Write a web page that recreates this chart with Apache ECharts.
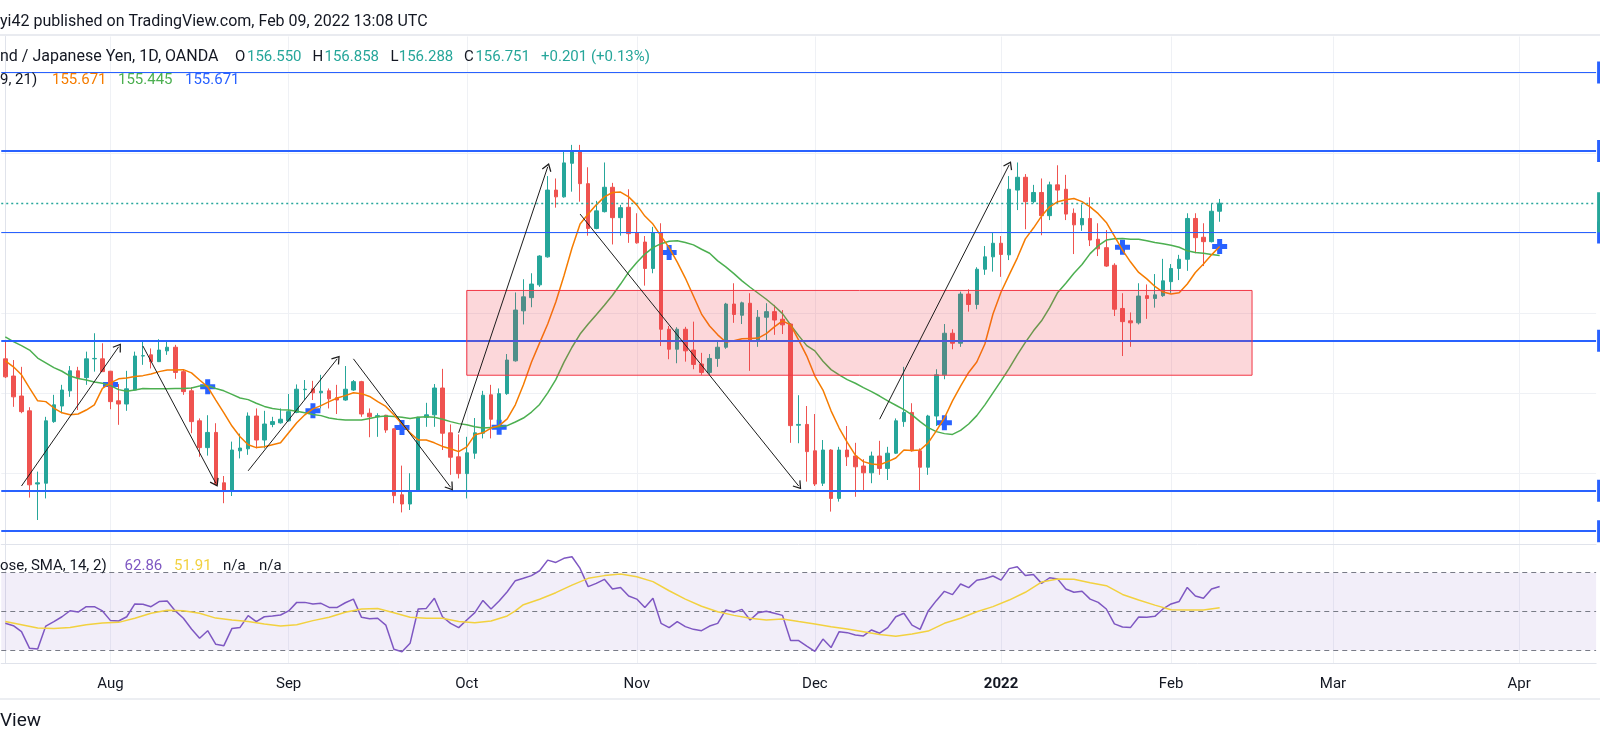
<!DOCTYPE html>
<html>
<head>
<meta charset="utf-8">
<title>GBP/JPY 1D</title>
<script src="https://cdn.jsdelivr.net/npm/echarts@6/dist/echarts.min.js"></script>
<style>
html, body { margin: 0; padding: 0; background: #ffffff; }
#chart { width: 1600px; height: 747px; }
</style>
</head>
<body>
<div id="chart"></div>
<script>
// one slot per trading day: 14 Jul 2021 .. 09 Feb 2022 (151 bars), then empty slots up to April
var barCount = 197;
var monthIdx = [13, 35, 57, 78, 100, 123, 144, 164, 187];
var monthLabels = ['Aug', 'Sep', 'Oct', 'Nov', 'Dec', '2022', 'Feb', 'Mar', 'Apr'];

var openP = [
    152.86, 152.43, 151.93, 151.56, 149.73, 149.75, 151.29, 151.68, 152.06, 152.56,
    152.39, 152.86, 152.86, 152.55, 151.81, 151.73, 152.08, 152.93, 152.96, 152.79,
    153.06, 153.15, 152.54, 152.06, 151.31, 150.64, 151.02, 149.76, 149.58, 150.56,
    150.61, 151.43, 150.83, 151.22, 151.26, 151.31, 151.52, 152.09, 152.11, 152.01,
    152.06, 151.89, 151.83, 152.08, 152.29, 151.50, 151.41, 151.45, 151.11, 149.46,
    149.23, 149.56, 151.40, 151.46, 152.13, 151.01, 150.41, 149.99, 150.50, 151.00,
    151.96, 151.33, 151.99, 152.81, 154.06, 154.39, 154.71, 155.41, 157.08, 156.91,
    157.75, 158.06, 157.24, 156.12, 156.54, 157.15, 156.39, 156.65, 156.01, 155.78,
    155.12, 156.01, 153.60, 153.10, 153.60, 153.08, 152.73, 152.52, 152.87, 153.15,
    154.23, 153.95, 154.25, 153.31, 153.90, 154.04, 153.85, 153.73, 151.20, 151.22,
    150.56, 149.75, 150.58, 149.37, 150.58, 150.43, 150.18, 150.01, 150.43, 150.12,
    150.50, 151.29, 151.52, 150.56, 150.15, 151.43, 152.46, 153.50, 153.25, 154.48,
    154.22, 155.10, 155.41, 155.75, 155.46, 157.08, 157.40, 156.79, 157.02, 156.44,
    157.21, 157.10, 156.50, 156.21, 156.37, 155.85, 155.64, 155.20, 154.12, 153.81,
    153.76, 154.44, 154.37, 154.44, 154.79, 155.12, 155.35, 156.37, 155.90, 155.79,
    156.550
];
var highP = [
    153.33, 152.83, 152.66, 151.65, 150.04, 151.41, 151.96, 152.21, 152.68, 152.66,
    153.04, 153.50, 153.25, 152.56, 152.23, 152.56, 153.04, 153.29, 153.12, 153.35,
    153.31, 153.21, 152.58, 152.15, 151.37, 151.45, 151.25, 149.93, 150.79, 150.99,
    151.52, 151.62, 151.56, 151.41, 151.62, 151.98, 152.22, 152.33, 152.31, 152.46,
    152.12, 152.21, 152.68, 152.33, 152.31, 151.62, 151.50, 151.46, 151.12, 150.19,
    150.00, 151.41, 151.76, 152.23, 152.61, 151.22, 150.97, 150.91, 151.38, 152.06,
    152.21, 152.12, 152.98, 154.52, 154.85, 155.00, 155.45, 157.43, 157.37, 158.06,
    158.21, 158.21, 157.65, 156.81, 157.77, 157.26, 156.71, 157.10, 156.50, 155.93,
    156.16, 156.25, 153.68, 153.65, 153.66, 153.79, 153.01, 152.98, 153.29, 154.26,
    154.75, 154.29, 154.50, 154.08, 154.25, 154.21, 154.08, 153.75, 151.95, 151.68,
    151.48, 150.83, 150.60, 150.66, 151.18, 150.76, 150.35, 150.54, 150.81, 150.66,
    151.37, 152.66, 151.75, 150.62, 151.46, 152.60, 153.73, 153.60, 154.54, 154.60,
    155.15, 155.68, 156.01, 155.93, 157.43, 157.77, 157.48, 157.21, 157.37, 157.29,
    157.70, 157.46, 156.62, 156.72, 156.90, 156.25, 156.08, 155.25, 154.50, 154.02,
    154.75, 154.72, 154.98, 155.36, 155.23, 155.46, 156.50, 156.50, 156.25, 156.75,
    156.858
];
var lowP = [
    152.38, 151.66, 151.50, 149.39, 148.83, 149.37, 151.26, 151.50, 151.91, 151.58,
    152.21, 152.54, 152.53, 151.60, 151.21, 151.56, 152.07, 152.71, 152.62, 152.78,
    152.96, 152.36, 151.96, 151.00, 150.41, 150.44, 149.70, 149.25, 149.43, 150.37,
    150.46, 150.62, 150.62, 151.15, 151.24, 151.29, 151.50, 151.83, 151.83, 151.62,
    151.62, 151.48, 151.81, 152.06, 151.41, 150.90, 150.91, 151.01, 149.25, 149.02,
    149.08, 149.54, 151.16, 151.16, 150.58, 149.96, 149.87, 149.37, 150.36, 150.87,
    150.87, 151.16, 151.96, 152.79, 153.72, 154.15, 154.66, 155.39, 156.64, 156.89,
    157.04, 156.79, 155.94, 156.10, 156.52, 155.72, 155.94, 155.76, 155.74, 154.69,
    155.00, 153.18, 152.85, 152.75, 152.79, 152.60, 152.46, 152.46, 152.66, 153.11,
    153.76, 153.73, 152.56, 153.16, 153.31, 153.46, 153.48, 150.76, 150.75, 149.79,
    149.68, 149.68, 149.04, 149.29, 150.18, 149.41, 149.54, 149.75, 149.96, 149.83,
    150.48, 151.16, 150.54, 149.58, 149.96, 151.18, 152.35, 153.10, 153.16, 154.04,
    154.10, 154.96, 155.04, 154.91, 155.33, 156.58, 156.10, 156.75, 155.95, 156.33,
    156.75, 156.33, 155.48, 156.06, 155.68, 155.43, 155.16, 153.93, 152.93, 153.16,
    153.72, 153.86, 154.14, 154.41, 154.51, 154.83, 155.06, 155.50, 155.18, 155.77,
    156.288
];
var closeP = [
    152.41, 151.91, 151.54, 149.71, 149.76, 151.31, 151.71, 152.08, 152.56, 152.39,
    152.86, 152.87, 152.54, 151.79, 151.73, 152.11, 152.93, 152.94, 152.79, 153.08,
    153.15, 152.52, 152.04, 151.29, 150.64, 151.02, 149.72, 149.58, 150.58, 150.63,
    151.43, 150.83, 151.23, 151.29, 151.35, 151.54, 152.10, 152.10, 152.01, 152.05,
    151.86, 151.83, 152.10, 152.29, 151.48, 151.41, 151.44, 151.08, 149.44, 149.23,
    149.56, 151.40, 151.46, 152.13, 151.00, 150.40, 149.99, 150.51, 151.01, 151.95,
    151.35, 151.99, 152.83, 154.08, 154.41, 154.73, 155.43, 157.08, 156.91, 157.76,
    158.06, 157.24, 156.12, 156.56, 157.15, 156.39, 156.64, 155.99, 155.76, 155.12,
    156.01, 153.60, 153.10, 153.60, 153.06, 152.72, 152.52, 152.87, 153.15, 154.23,
    153.97, 154.26, 153.31, 153.90, 154.04, 153.83, 153.71, 151.19, 151.22, 150.54,
    149.73, 150.58, 149.37, 150.58, 150.41, 150.16, 150.01, 150.43, 150.12, 150.50,
    151.31, 151.52, 150.56, 150.15, 151.43, 152.46, 153.50, 153.25, 154.48, 154.22,
    155.10, 155.41, 155.75, 155.47, 157.10, 157.40, 156.79, 157.02, 156.44, 157.21,
    157.08, 156.48, 156.21, 156.37, 155.83, 155.61, 155.18, 154.10, 153.79, 153.76,
    154.43, 154.37, 154.46, 154.81, 155.12, 155.35, 156.37, 155.89, 155.79, 156.55,
    156.751
];

// MA cross: short (9) orange, long (21) green
var maShort = [
    152.81, 152.66, 152.46, 152.13, 151.81, 151.79, 151.63, 151.51, 151.46, 151.48,
    151.58, 151.71, 152.12, 152.26, 152.36, 152.38, 152.42, 152.44, 152.48, 152.54,
    152.58, 152.58, 152.59, 152.51, 152.33, 152.16, 151.83, 151.51, 151.18, 150.91,
    150.71, 150.64, 150.66, 150.71, 150.76, 151.01, 151.26, 151.46, 151.61, 151.69,
    151.79, 151.88, 151.94, 152.01, 151.99, 151.92, 151.79, 151.67, 151.46, 151.23,
    151.01, 150.83, 150.83, 150.76, 150.67, 150.61, 150.54, 150.66, 150.96, 151.01,
    151.13, 151.19, 151.36, 151.71, 152.21, 152.78, 153.26, 153.73, 154.28, 154.93,
    155.63, 156.23, 156.48, 156.71, 156.91, 157.02, 157.03, 156.91, 156.71, 156.43,
    156.23, 155.93, 155.64, 155.28, 154.88, 154.43, 153.98, 153.68, 153.46, 153.28,
    153.31, 153.36, 153.37, 153.38, 153.49, 153.66, 153.81, 153.71, 153.33, 152.93,
    152.43, 152.08, 151.56, 151.13, 150.77, 150.45, 150.29, 150.23, 150.21, 150.29,
    150.38, 150.58, 150.57, 150.58, 150.76, 151.06, 151.38, 151.81, 152.18, 152.52,
    152.78, 153.23, 153.98, 154.53, 154.96, 155.38, 155.86, 156.13, 156.43, 156.66,
    156.79, 156.84, 156.87, 156.79, 156.66, 156.49, 156.27, 155.93, 155.58, 155.28,
    155.02, 154.86, 154.67, 154.53, 154.48, 154.51, 154.73, 155.02, 155.23, 155.46,
    155.671
];
var maLong = [
    153.41, 153.29, 153.19, 153.08, 152.88, 152.76, 152.64, 152.55, 152.43, 152.37,
    152.33, 152.28, 152.25, 152.19, 152.09, 152.05, 152.08, 152.12, 152.11, 152.11,
    152.11, 152.12, 152.12, 152.13, 152.18, 152.19, 152.12, 152.06, 151.97, 151.88,
    151.84, 151.75, 151.67, 151.62, 151.59, 151.58, 151.55, 151.51, 151.47, 151.44,
    151.38, 151.35, 151.33, 151.33, 151.33, 151.37, 151.41, 151.43, 151.42, 151.40,
    151.37, 151.40, 151.41, 151.40, 151.35, 151.29, 151.24, 151.21, 151.16, 151.13,
    151.14, 151.16, 151.19, 151.28, 151.38, 151.53, 151.72, 152.01, 152.34, 152.77,
    153.15, 153.48, 153.73, 153.96, 154.20, 154.45, 154.73, 155.03, 155.27, 155.48,
    155.64, 155.74, 155.80, 155.81, 155.77, 155.71, 155.60, 155.50, 155.31, 155.16,
    154.99, 154.81, 154.65, 154.50, 154.35, 154.18, 153.99, 153.71, 153.44, 153.19,
    153.06, 152.80, 152.59, 152.46, 152.34, 152.25, 152.14, 152.04, 151.93, 151.81,
    151.70, 151.59, 151.46, 151.29, 151.14, 151.04, 150.99, 150.97, 151.07, 151.23,
    151.44, 151.71, 152.01, 152.31, 152.62, 152.96, 153.27, 153.56, 153.81, 154.14,
    154.52, 154.75, 155.00, 155.22, 155.49, 155.69, 155.83, 155.86, 155.87, 155.85,
    155.85, 155.81, 155.77, 155.74, 155.70, 155.65, 155.56, 155.52, 155.50, 155.47,
    155.445
];
var crossIdx = [13, 25, 38, 49, 61, 82, 116, 138, 150];
var crossVal = [152.22, 152.16, 151.56, 151.14, 151.15, 155.52, 151.26, 155.65, 155.671];

// drawings
var levelsThin = [160.02, 156.02];
var levelsThick = [158.06, 153.31, 149.56, 148.55];
var lastClose = 156.751;
var zoneIdx = [57, 154];
var zonePrice = [152.45, 154.57];
var arrowLines = [
    [2, 149.68, 14, 153.16],
    [17, 153.18, 26, 149.75],
    [30, 150.06, 41, 152.86],
    [43, 152.86, 55, 149.65],
    [56, 151.01, 67, 157.66],
    [71, 156.48, 98, 149.68],
    [108, 151.35, 124, 157.71]
];
var priceGrid = [150, 152, 154, 156, 158, 160];

// RSI 14 and its SMA 14
var rsi = [
    43.9, 42.7, 39.6, 31.0, 30.7, 42.5, 44.8, 47.3, 50.4, 49.7,
    52.5, 52.5, 50.3, 45.3, 45.1, 47.3, 53.9, 53.7, 52.5, 55.1,
    55.4, 50.3, 46.5, 41.0, 36.2, 40.1, 33.1, 32.4, 41.3, 41.8,
    47.9, 44.8, 47.3, 47.7, 48.2, 50.3, 54.7, 54.7, 53.9, 54.2,
    52.1, 52.1, 54.5, 56.4, 47.0, 46.3, 46.5, 43.0, 30.5, 29.3,
    33.6, 51.3, 51.6, 56.8, 47.3, 43.9, 41.7, 45.6, 49.4, 55.7,
    51.3, 55.4, 60.2, 65.9, 67.1, 68.5, 71.0, 76.5, 75.3, 77.4,
    78.2, 72.2, 62.8, 64.5, 66.6, 61.6, 62.4, 58.0, 56.4, 52.1,
    56.8, 43.9, 41.7, 44.8, 42.2, 40.8, 40.1, 42.5, 43.9, 50.8,
    49.7, 51.1, 45.6, 49.4, 50.1, 49.1, 48.0, 35.0, 35.0, 32.2,
    29.5, 35.8, 31.4, 39.6, 39.1, 37.9, 37.4, 40.5, 38.8, 41.7,
    47.3, 49.1, 43.0, 40.8, 50.3, 55.6, 60.4, 58.7, 64.2, 62.3,
    66.1, 66.9, 68.3, 66.2, 72.1, 73.1, 68.5, 69.1, 64.5, 67.4,
    66.7, 61.6, 59.9, 60.4, 56.4, 54.7, 51.3, 43.6, 42.0, 41.8,
    47.2, 47.0, 47.5, 51.3, 53.9, 55.2, 62.4, 58.0, 56.8, 61.6,
    62.86
];
var rsiMa = [
    [0, 44.8], [2, 43.2], [4, 41.5], [6, 41.2], [8, 41.7], [10, 43.2], [12, 44.1], [14, 44.4],
    [16, 46.5], [18, 49.1], [20, 50.6], [22, 50.4], [24, 49.1], [26, 46.6], [28, 45.6], [30, 44.8],
    [32, 43.6], [34, 42.5], [36, 43.2], [38, 45.3], [40, 47.0], [42, 49.6], [44, 51.3], [46, 51.5],
    [48, 49.4], [50, 47.0], [52, 46.5], [54, 46.5], [56, 44.9], [58, 44.2], [60, 45.1], [62, 47.7],
    [63, 50.3], [64, 53.5], [66, 56.3], [68, 59.7], [70, 63.6], [72, 67.1], [74, 68.5], [76, 69.3],
    [78, 67.9], [80, 65.4], [82, 60.7], [84, 56.4], [86, 52.7], [88, 49.9], [90, 48.0], [92, 46.5],
    [94, 45.6], [96, 46.1], [98, 44.8], [100, 43.6], [102, 42.2], [104, 41.0], [106, 39.6], [108, 38.2],
    [110, 37.2], [112, 38.4], [114, 39.9], [116, 43.9], [118, 46.5], [120, 49.9], [122, 52.5], [124, 55.9],
    [126, 59.9], [128, 65.2], [130, 66.7], [132, 66.6], [134, 64.8], [136, 63.3], [138, 58.8], [140, 55.9],
    [142, 53.3], [144, 50.9], [146, 50.8], [148, 50.8], [150, 51.91]
];
var rsiLevels = [70, 50, 30];

var FONT = 'Roboto, "Liberation Sans", Arial, sans-serif';
var TXT = '#131722';
var UP = '#26a69a', DOWN = '#ef5350', BLUE = '#2962ff';
var ORANGE = '#f57c00', GREEN = '#4caf50', PURPLE = '#7e57c2', YELLOW = '#f2d13f';
var GRID_L = 1.25, GRID_R = 3.9;
var ARROW = 'path://M5,0L10,7L9,7.7L5,2.1L1,7.7L0,7Z';
var PLUS = 'path://M5,0H10V5H15V10H10V15H5V10H0V5H5Z';

var cats = [];
for (var i = 0; i < barCount; i++) cats.push(String(i));

var candles = [];
for (var i = 0; i < openP.length; i++) {
    candles.push([openP[i], closeP[i], lowP[i], highP[i]]);
}

var crosses = [];
for (var i = 0; i < crossIdx.length; i++) crosses.push([crossIdx[i], crossVal[i]]);

//右侧价格标签（只露出3px）
function tab(color) {
    return {
        show: true, position: 'end', distance: 1, color: '#fff', fontSize: 12, fontFamily: FONT,
        lineHeight: 14, padding: [4, 5], backgroundColor: color,
        formatter: function (p) { return p.value.toFixed(3); }
    };
}

var levelLines = [];
levelsThin.forEach(function (v) {
    levelLines.push({ yAxis: v, lineStyle: { width: 1.2 }, label: tab(BLUE) });
});
levelsThick.forEach(function (v) {
    levelLines.push({ yAxis: v, lineStyle: { width: 2.2 }, label: tab(BLUE) });
});
var closeTab = tab(UP);
closeTab.formatter = '156.751\n10:51:52';
closeTab.padding = [6, 5];
closeTab.offset = [0, 9];
levelLines.push({ yAxis: lastClose, lineStyle: { width: 1.3, color: UP, type: [2, 3] }, label: closeTab });

var arrows = arrowLines.map(function (a) {
    return [{ coord: [a[0], a[1]] }, { coord: [a[2], a[3]] }];
});

function monthLabel(val) {
    var k = monthIdx.indexOf(Math.round(val));
    if (k < 0) return '';
    return monthLabels[k] === '2022' ? '{y|2022}' : monthLabels[k];
}

var lineAxis = { onZero: false, lineStyle: { color: '#e0e3eb', width: 1 } };
var gridLine = { show: true, lineStyle: { color: '#eff1f5', width: 1 } };

// legend texts: [text, x, y, color, size]
var texts = [
    ['yi42 published on TradingView.com, Feb 09, 2022 13:08 UTC', 0, 21.7, TXT, 16],
    ['nd / Japanese Yen, 1D, OANDA', 0, 57.3, TXT, 16],
    ['O', 235, 57.3, TXT, 15], ['156.550', 247, 57.3, UP, 15],
    ['H', 312.5, 57.3, TXT, 15], ['156.858', 324.5, 57.3, UP, 15],
    ['L', 390.6, 57.3, TXT, 15], ['156.288', 398.7, 57.3, UP, 15],
    ['C', 464, 57.3, TXT, 15], ['156.751', 475.4, 57.3, UP, 15],
    ['+0.201 (+0.13%)', 541, 57.3, UP, 15],
    ['9, 21)', 0, 80, TXT, 15],
    ['155.671', 52, 80, ORANGE, 15], ['155.445', 118, 80, GREEN, 15], ['155.671', 185, 80, BLUE, 15],
    ['ose, SMA, 14, 2)', 0, 566, TXT, 15],
    ['62.86', 124.6, 566, PURPLE, 15], ['51.91', 174, 566, YELLOW, 15],
    ['n/a', 223, 566, TXT, 15], ['n/a', 259, 566, TXT, 15],
    ['View', 0, 721, TXT, 19]
];
var graphics = [
    { type: 'rect', shape: { x: 0, y: 34, width: 1600, height: 2 }, style: { fill: '#e9ebf0' }, silent: true },
    { type: 'rect', shape: { x: 0, y: 698, width: 1600, height: 2 }, style: { fill: '#eceef2' }, silent: true }
];
texts.forEach(function (t) {
    graphics.push({
        type: 'text', x: t[1], y: t[2], silent: true, z: 100,
        style: { text: t[0], fill: t[3], font: t[4] + 'px ' + FONT, verticalAlign: 'middle', align: 'left' }
    });
});

var option = {
    animation: false,
    backgroundColor: '#ffffff',
    grid: [
        { left: GRID_L, right: GRID_R, top: 36.5, height: 507.5 },
        { left: GRID_L, right: GRID_R, top: 544.5, height: 118.8 }
    ],
    xAxis: [
        { type: 'category', gridIndex: 0, data: cats, boundaryGap: true, position: 'bottom',
          axisLine: lineAxis, axisTick: { show: false }, axisLabel: { show: false }, splitLine: { show: false } },
        { type: 'category', gridIndex: 1, data: cats, boundaryGap: true, position: 'bottom',
          axisLine: lineAxis, axisTick: { show: false }, axisLabel: { show: false }, splitLine: { show: false } },
        { type: 'value', gridIndex: 0, min: -0.5, max: barCount - 0.5, position: 'bottom',
          axisLine: { show: false }, axisTick: { show: false, customValues: monthIdx },
          axisLabel: { show: false }, splitLine: gridLine },
        { type: 'value', gridIndex: 1, min: -0.5, max: barCount - 0.5, position: 'bottom',
          axisLine: { show: false }, axisTick: { show: false, customValues: monthIdx },
          axisLabel: {
              show: true, customValues: monthIdx, formatter: monthLabel, margin: 13,
              color: TXT, fontSize: 15, fontFamily: FONT,
              rich: { y: { fontWeight: 'bold', fontSize: 15, fontFamily: FONT, color: TXT } }
          },
          splitLine: gridLine }
    ],
    yAxis: [
        { type: 'value', gridIndex: 0, position: 'right', min: 148.23, max: 160.92,
          axisLine: { show: true, lineStyle: { color: '#e0e3eb' } },
          axisTick: { show: false, customValues: priceGrid }, axisLabel: { show: false }, splitLine: gridLine },
        { type: 'value', gridIndex: 1, position: 'right', min: 23.3, max: 84.54,
          axisLine: { show: true, lineStyle: { color: '#e0e3eb' } },
          axisTick: { show: false }, axisLabel: { show: false }, splitLine: { show: false } }
    ],
    graphic: graphics,
    series: [
        {
            name: 'crosses', type: 'scatter', xAxisIndex: 0, yAxisIndex: 0, z: 1,
            symbol: PLUS, symbolSize: 15, itemStyle: { color: BLUE, opacity: 1 },
            data: crosses, silent: true
        },
        {
            name: 'GBPJPY', type: 'candlestick', xAxisIndex: 0, yAxisIndex: 0, z: 2,
            barWidth: 4, data: candles, silent: true,
            itemStyle: { color: UP, color0: DOWN, borderColor: UP, borderColor0: DOWN, borderWidth: 1 }
        },
        {
            name: 'MA 21', type: 'line', xAxisIndex: 0, yAxisIndex: 0, z: 3, data: maLong,
            showSymbol: false, silent: true, lineStyle: { color: GREEN, width: 1.5 }
        },
        {
            name: 'MA 9', type: 'line', xAxisIndex: 0, yAxisIndex: 0, z: 3, data: maShort,
            showSymbol: false, silent: true, lineStyle: { color: ORANGE, width: 1.5 }
        },
        {
            name: 'levels', type: 'line', xAxisIndex: 0, yAxisIndex: 0, z: 4, data: [],
            markLine: {
                silent: true, z: 4, symbol: ['none', 'none'], animation: false,
                lineStyle: { color: BLUE, type: 'solid' }, emphasis: { disabled: true },
                data: levelLines
            }
        },
        {
            name: 'zone', type: 'line', xAxisIndex: 0, yAxisIndex: 0, z: 6, data: [],
            markArea: {
                silent: true, z: 6,
                itemStyle: { color: 'rgba(242,54,69,0.2)', borderColor: '#f23645', borderWidth: 1 },
                data: [[{ xAxis: zoneIdx[0], yAxis: zonePrice[1] }, { xAxis: zoneIdx[1], yAxis: zonePrice[0] }]]
            }
        },
        {
            name: 'arrows', type: 'line', xAxisIndex: 0, yAxisIndex: 0, z: 7, data: [],
            markLine: {
                silent: true, z: 7, symbol: ['none', ARROW], symbolSize: [10, 8],
                label: { show: false }, emphasis: { disabled: true },
                lineStyle: { color: '#1c1c1c', width: 1, type: 'solid' },
                data: arrows
            }
        },
        {
            name: 'rsiBand', type: 'line', xAxisIndex: 1, yAxisIndex: 1, z: 1, data: [],
            markArea: {
                silent: true, z: 1, itemStyle: { color: 'rgba(126,87,194,0.1)' },
                data: [[{ yAxis: rsiLevels[0] }, { yAxis: rsiLevels[2] }]]
            },
            markLine: {
                silent: true, z: 2, symbol: ['none', 'none'], label: { show: false },
                emphasis: { disabled: true },
                lineStyle: { color: '#787b86', width: 1, type: [5, 4] },
                data: rsiLevels.map(function (v) { return { yAxis: v }; })
            }
        },
        {
            name: 'RSI', type: 'line', xAxisIndex: 1, yAxisIndex: 1, z: 3, data: rsi,
            showSymbol: false, silent: true, lineStyle: { color: PURPLE, width: 1.5 }
        },
        {
            name: 'RSI MA', type: 'line', xAxisIndex: 1, yAxisIndex: 1, z: 4, data: rsiMa,
            showSymbol: false, silent: true, lineStyle: { color: YELLOW, width: 1.5 }
        }
    ]
};

var chart = echarts.init(document.getElementById('chart'));
chart.setOption(option);
</script>
</body>
</html>
